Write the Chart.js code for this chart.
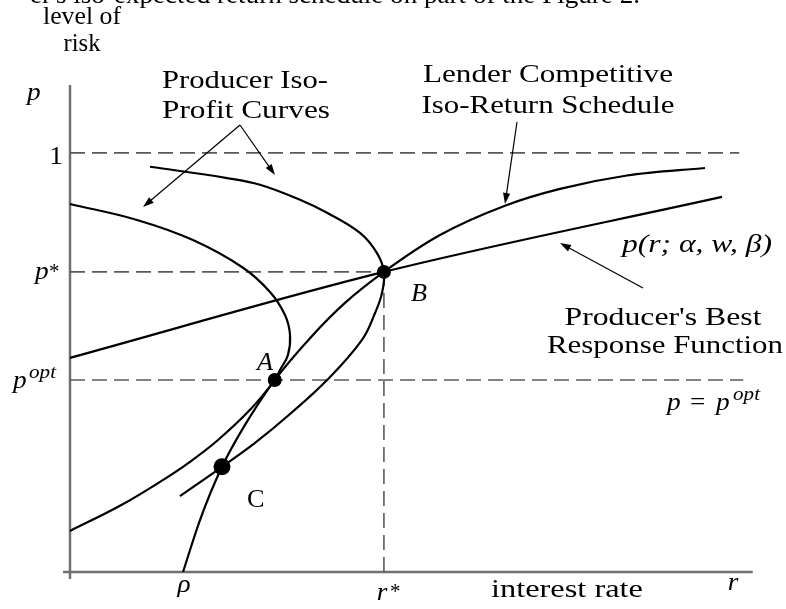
<!DOCTYPE html>
<html>
<head>
<meta charset="utf-8">
<script src="https://cdn.jsdelivr.net/npm/chart.js@4.4.1/dist/chart.umd.min.js"></script>
<style>
  html, body { margin: 0; padding: 0; background: #fff; }
  canvas { display: block; }
</style>
</head>
<body>
<canvas id="riskChart" width="786" height="609"></canvas>
<script>
// values: r (interest rate) across, p (level of risk) up
var rMax = 10;
var pMax = 1.162;
var pOne = 1;
var pStar = 0.716;
var pOpt = 0.458;
var rStar = 4.63;
var rho = 1.667;

// lender competitive iso-return schedule
var lenderSchedule = [
  [1.667, 0], [1.917, 0.124], [2.242, 0.251], [2.581, 0.351], [3.02, 0.458],
  [3.54, 0.558], [4.056, 0.642], [4.63, 0.716], [5.457, 0.804], [6.416, 0.874],
  [7.227, 0.914], [8.215, 0.946], [9.366, 0.964]
];

// producer's best response function p(r; a, w, b)
var bestResponse = [[0, 0.511], [4.63, 0.716], [9.617, 0.895]];

// producer iso-profit curves (outer one goes through B and C, inner one through A)
var outerIsoProfit = [
  [1.18, 0.967], [2.316, 0.94], [2.802, 0.924], [3.392, 0.888], [3.791, 0.857],
  [4.277, 0.809], [4.528, 0.761], [4.63, 0.716], [4.602, 0.666], [4.499, 0.618],
  [4.307, 0.554], [3.791, 0.458], [3.245, 0.377], [2.729, 0.308], [2.242, 0.251],
  [1.622, 0.181]
];
var innerIsoProfit = [
  [0, 0.878], [0.988, 0.84], [1.814, 0.792], [2.552, 0.726], [2.95, 0.668],
  [3.171, 0.613], [3.245, 0.566], [3.215, 0.518], [3.097, 0.482], [3.02, 0.458],
  [2.655, 0.387], [2.183, 0.315], [1.77, 0.263], [1.327, 0.215], [0.737, 0.158],
  [0, 0.098]
];

// A, B, C
var equilibria = [[3.02, 0.458], [4.63, 0.716], [2.242, 0.251]];

function pts(list) {
  return list.map(function (d) { return { x: d[0], y: d[1] }; });
}

function curve(list, mode) {
  return {
    data: pts(list),
    showLine: true,
    borderColor: '#000',
    borderWidth: 2.2,
    pointRadius: 0,
    tension: mode ? 0 : 0.4,
    cubicInterpolationMode: mode || 'default',
    clip: false
  };
}

function dashed(list) {
  return {
    data: pts(list),
    showLine: true,
    borderColor: '#5a5a5a',
    borderWidth: 1.6,
    borderDash: [15, 7],
    pointRadius: 0,
    clip: false
  };
}

function axis(list) {
  return {
    data: pts(list),
    showLine: true,
    borderColor: '#707070',
    borderWidth: 2.5,
    pointRadius: 0,
    clip: false
  };
}

// text helper, squeezes / stretches to the width seen in the figure
function txt(ctx, s, x, y, o) {
  o = o || {};
  ctx.save();
  ctx.fillStyle = '#000';
  ctx.font = (o.italic ? 'italic ' : '') + (o.size || 25) + 'px "Liberation Serif"';
  ctx.textBaseline = 'alphabetic';
  ctx.textAlign = o.align || 'center';
  var w = ctx.measureText(s).width;
  var sx = o.width ? o.width / w : 1.05;
  ctx.translate(x, y);
  ctx.scale(sx, 1);
  ctx.fillText(s, 0, 0);
  ctx.restore();
}

function arrow(ctx, x1, y1, x2, y2) {
  var a = Math.atan2(y2 - y1, x2 - x1);
  var len = 11, half = 3.6;
  ctx.save();
  ctx.strokeStyle = '#000';
  ctx.fillStyle = '#000';
  ctx.lineWidth = 1.2;
  ctx.beginPath();
  ctx.moveTo(x1, y1);
  ctx.lineTo(x2 - Math.cos(a) * len * 0.8, y2 - Math.sin(a) * len * 0.8);
  ctx.stroke();
  ctx.beginPath();
  ctx.moveTo(x2, y2);
  ctx.lineTo(x2 - Math.cos(a) * len - Math.sin(a) * half, y2 - Math.sin(a) * len + Math.cos(a) * half);
  ctx.lineTo(x2 - Math.cos(a) * len + Math.sin(a) * half, y2 - Math.sin(a) * len - Math.cos(a) * half);
  ctx.closePath();
  ctx.fill();
  ctx.restore();
}

var labelsPlugin = {
  id: 'figureLabels',
  afterDraw: function (chart) {
    var ctx = chart.ctx;

    // caption line cut off at the top of the page
    txt(ctx, "er's iso-expected return schedule on part of the Figure 2.", 30, 3, { align: 'left', width: 610 });

    txt(ctx, 'level of', 82, 24, { width: 78 });
    txt(ctx, 'risk', 82, 51, { width: 37 });

    // axis labels
    txt(ctx, 'p', 27, 100, { italic: true, align: 'left', size: 26 });
    txt(ctx, '1', 56, 164, { size: 26 });
    txt(ctx, 'p', 35, 279, { italic: true, align: 'left', size: 26 });
    txt(ctx, '*', 49, 278, { align: 'left', size: 20 });
    txt(ctx, 'p', 13, 388, { italic: true, align: 'left', size: 26 });
    txt(ctx, 'opt', 29, 378, { italic: true, align: 'left', size: 18, width: 27 });

    txt(ctx, '\u03c1', 184, 592, { italic: true, size: 26 });
    txt(ctx, 'r', 382, 600, { italic: true, size: 26 });
    txt(ctx, '*', 390, 598, { align: 'left', size: 20 });
    txt(ctx, 'interest rate', 567, 597, { width: 152 });
    txt(ctx, 'r', 733, 590, { italic: true, size: 26 });

    // curve captions
    txt(ctx, 'Producer Iso-', 245, 88, { width: 166 });
    txt(ctx, 'Profit Curves', 246, 118, { width: 168 });
    txt(ctx, 'Lender Competitive', 548, 82, { width: 250 });
    txt(ctx, 'Iso-Return Schedule', 548, 113, { width: 253 });
    txt(ctx, 'p(r; \u03b1, w, \u03b2)', 622, 252, { italic: true, align: 'left', width: 150 });
    txt(ctx, "Producer's Best", 663, 325, { width: 197 });
    txt(ctx, 'Response Function', 665, 353, { width: 236 });

    txt(ctx, 'p', 667, 410, { italic: true, align: 'left', size: 26 });
    txt(ctx, '=', 690, 410, { align: 'left', size: 26 });
    txt(ctx, 'p', 716, 410, { italic: true, align: 'left', size: 26 });
    txt(ctx, 'opt', 733, 400, { italic: true, align: 'left', size: 18, width: 27 });

    txt(ctx, 'A', 257, 370, { italic: true, align: 'left', size: 25 });
    txt(ctx, 'B', 411, 301, { italic: true, align: 'left', size: 25 });
    txt(ctx, 'C', 247, 507, { align: 'left', size: 25 });

    arrow(ctx, 240, 125, 143, 207);
    arrow(ctx, 240, 125, 275, 175);
    arrow(ctx, 517, 122, 505, 204);
    arrow(ctx, 643, 288, 560, 243);
  }
};

var chartEl = document.getElementById('riskChart');
var riskChart = new Chart(chartEl, {
  type: 'scatter',
  data: {
    datasets: [
      {
        data: pts(equilibria),
        pointRadius: [7, 7, 8.5],
        pointBackgroundColor: '#000',
        pointBorderColor: '#000',
        pointBorderWidth: 0,
        clip: false
      },
      curve(lenderSchedule, 'monotone'),
      curve(bestResponse, 'monotone'),
      curve(outerIsoProfit),
      curve(innerIsoProfit),
      dashed([[0, pOne], [9.87, pOne]]),
      dashed([[0, pStar], [rStar, pStar]]),
      dashed([[0, pOpt], [9.93, pOpt]]),
      dashed([[rStar, 0], [rStar, pStar]]),
      axis([[-0.103, 0], [10.07, 0]]),
      axis([[0, -0.017], [0, pMax]])
    ]
  },
  options: {
    responsive: false,
    animation: false,
    devicePixelRatio: 1,
    events: [],
    layout: {
      padding: { left: 70, right: 38, top: 85, bottom: 37 }
    },
    scales: {
      x: { type: 'linear', min: 0, max: rMax, display: false },
      y: { type: 'linear', min: 0, max: pMax, display: false }
    },
    plugins: {
      legend: { display: false },
      tooltip: { enabled: false }
    }
  },
  plugins: [labelsPlugin]
});
</script>
</body>
</html>
